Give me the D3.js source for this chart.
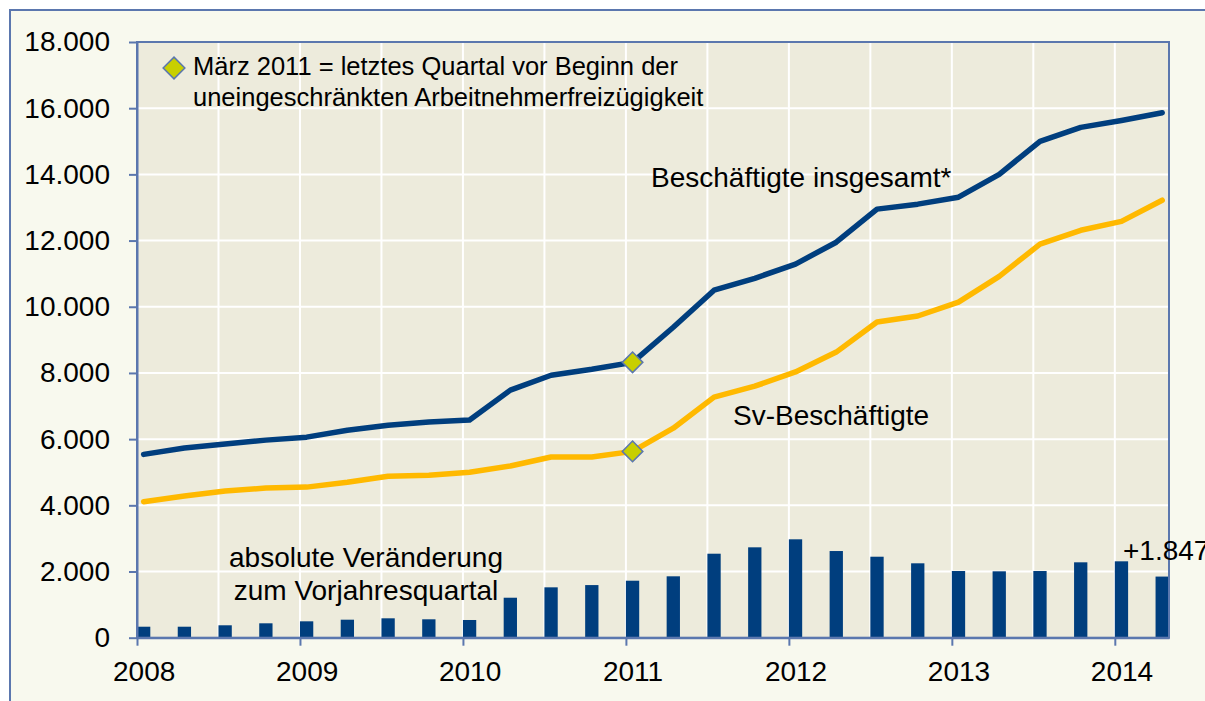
<!DOCTYPE html>
<html>
<head>
<meta charset="utf-8">
<script src="https://cdn.jsdelivr.net/npm/d3@7"></script>
<style>
body { margin: 0; background: #ffffff; }
svg text { font-family: "Liberation Sans", Arial, sans-serif; fill: #000000; }
</style>
</head>
<body>
<div class="vis-holder"></div>
<script>
// quarters shown on the chart (end month of each quarter)
var quarters = ["03/2008", "06/2008", "09/2008", "12/2008",
                "03/2009", "06/2009", "09/2009", "12/2009",
                "03/2010", "06/2010", "09/2010", "12/2010",
                "03/2011", "06/2011", "09/2011", "12/2011",
                "03/2012", "06/2012", "09/2012", "12/2012",
                "03/2013", "06/2013", "09/2013", "12/2013",
                "03/2014", "06/2014"];

// Beschäftigte insgesamt*
var total = [5540, 5730, 5850, 5970, 6060, 6270, 6420, 6520, 6580, 7480,
             7930, 8110, 8320, 9380, 10500, 10860, 11290, 11950, 12950, 13100,
             13310, 14000, 15000, 15420, 15630, 15860];

// Sv-Beschäftigte
var sv = [4110, 4280, 4430, 4520, 4550, 4700, 4880, 4910, 5000, 5190,
          5460, 5460, 5630, 6330, 7270, 7600, 8030, 8630, 9540, 9720,
          10140, 10920, 11890, 12310, 12580, 13220];

// absolute Veränderung zum Vorjahresquartal
var change = [332, 332, 375, 435, 495, 544, 586, 556, 535, 1208,
              1522, 1590, 1722, 1855, 2538, 2731, 2973, 2619, 2447, 2248,
              2015, 2006, 2015, 2278, 2308, 1847];

var years = [2008, 2009, 2010, 2011, 2012, 2013, 2014];
var yTicks = [0, 2000, 4000, 6000, 8000, 10000, 12000, 14000, 16000, 18000];
var markQuarter = "03/2011";

// svg size
var width = 1205;
var height = 701;
var margin = {
	top: 42,
	bottom: 63.3,
	left: 137,
	right: 36
};

var barWidth = 13.3;

var de = d3.formatLocale({decimal: ",", thousands: ".", grouping: [3], currency: ["", " €"]});
var fmt = de.format(",");

var svg = d3.select(".vis-holder")
			.append("svg")
			.attr("width", width)
			.attr("height", height);

// outer frame
svg.append("rect")
   .attr("x", 10)
   .attr("y", 10)
   .attr("width", width + 20)
   .attr("height", height + 20)
   .attr("fill", "#f8f9ee")
   .attr("stroke", "#5b77ae")
   .attr("stroke-width", 2);

// x-scale in quarters counted from the first quarter of 2008
var xScale = d3.scaleLinear()
			   .domain([0, 25.33])
			   .range([margin.left, width - margin.right]);

var yScale = d3.scaleLinear()
			   .domain([0, 18000])
			   .range([height - margin.bottom, margin.top]);

var plotW = xScale.range()[1] - xScale.range()[0];
var plotH = yScale.range()[0] - yScale.range()[1];

// plot background
svg.append("rect")
   .attr("x", margin.left)
   .attr("y", margin.top)
   .attr("width", plotW)
   .attr("height", plotH)
   .attr("fill", "#edebdc");

// white grid: horizontal at each y tick, vertical every half year
svg.append("g")
   .selectAll("line")
   .data(yTicks.slice(1))
   .enter()
   .append("line")
   .attr("x1", margin.left)
   .attr("x2", margin.left + plotW)
   .attr("y1", function(d) { return yScale(d); })
   .attr("y2", function(d) { return yScale(d); })
   .attr("stroke", "#ffffff")
   .attr("stroke-width", 2);

var halfYears = d3.range(2, 25, 2);
svg.append("g")
   .selectAll("line")
   .data(halfYears)
   .enter()
   .append("line")
   .attr("x1", function(d) { return xScale(d); })
   .attr("x2", function(d) { return xScale(d); })
   .attr("y1", margin.top)
   .attr("y2", margin.top + plotH)
   .attr("stroke", "#ffffff")
   .attr("stroke-width", 2);

// bars
svg.append("g")
   .selectAll("rect")
   .data(change)
   .enter()
   .append("rect")
   .attr("x", function(d, i) { return xScale(i); })
   .attr("y", function(d) { return yScale(d); })
   .attr("width", barWidth)
   .attr("height", function(d) { return yScale(0) - yScale(d); })
   .attr("fill", "#003e7e");

// lines
var line = d3.line()
			 .x(function(d, i) { return xScale(i) + barWidth / 2; })
			 .y(function(d) { return yScale(d); });

svg.append("path")
   .attr("d", line(sv))
   .attr("fill", "none")
   .attr("stroke", "#ffb900")
   .attr("stroke-width", 5.5)
   .attr("stroke-linejoin", "round")
   .attr("stroke-linecap", "round");

svg.append("path")
   .attr("d", line(total))
   .attr("fill", "none")
   .attr("stroke", "#003e7e")
   .attr("stroke-width", 5.5)
   .attr("stroke-linejoin", "round")
   .attr("stroke-linecap", "round");

// diamond markers at März 2011
var diamond = d3.symbol().type(d3.symbolDiamond2).size(270);
var mi = quarters.indexOf(markQuarter);

svg.append("g")
   .selectAll("path")
   .data([total[mi], sv[mi]])
   .enter()
   .append("path")
   .attr("d", diamond)
   .attr("transform", function(d) {
	   return "translate(" + (xScale(mi) + barWidth / 2) + "," + yScale(d) + ")";
   })
   .attr("fill", "#c8cf00")
   .attr("stroke", "#5b77ae")
   .attr("stroke-width", 1.5);

// plot border
svg.append("rect")
   .attr("x", margin.left)
   .attr("y", margin.top)
   .attr("width", plotW)
   .attr("height", plotH)
   .attr("fill", "none")
   .attr("stroke", "#5b77ae")
   .attr("stroke-width", 2);

// y-axis
var yAxis = svg.append("g")
			   .attr("transform", "translate(" + margin.left + ",0)")
			   .call(d3.axisLeft(yScale).tickValues(yTicks).tickFormat(fmt)
					   .tickSize(8).tickSizeOuter(0).tickPadding(19));

// x-axis with year ticks, labels centred over the first bar of the year
var xAxis = svg.append("g")
			   .attr("transform", "translate(0," + yScale(0) + ")")
			   .call(d3.axisBottom(xScale)
					   .tickValues(years.map(function(y) { return (y - 2008) * 4; }))
					   .tickFormat(function(d) { return 2008 + d / 4; })
					   .tickSize(8).tickSizeOuter(0).tickPadding(15));

xAxis.selectAll("text").attr("x", barWidth / 2);

svg.selectAll(".domain, .tick line")
   .attr("stroke", "#5b77ae")
   .attr("stroke-width", 2);

svg.selectAll(".tick text")
   .style("font-size", "28px")
   .attr("fill", "#000000");

// legend for the diamond
svg.append("path")
   .attr("d", d3.symbol().type(d3.symbolDiamond2).size(300))
   .attr("transform", "translate(174,68)")
   .attr("fill", "#c8cf00")
   .attr("stroke", "#5b77ae")
   .attr("stroke-width", 1.5);

var legendLines = ["März 2011 = letztes Quartal vor Beginn der",
				   "uneingeschränkten Arbeitnehmerfreizügigkeit"];
svg.append("text")
   .style("font-size", "25.5px")
   .selectAll("tspan")
   .data(legendLines)
   .enter()
   .append("tspan")
   .attr("x", 193)
   .attr("y", function(d, i) { return 75 + i * 31; })
   .text(function(d) { return d; });

// series labels
svg.append("text")
   .attr("x", 651)
   .attr("y", 187)
   .style("font-size", "28px")
   .text("Beschäftigte insgesamt*");

svg.append("text")
   .attr("x", 733)
   .attr("y", 425)
   .style("font-size", "28px")
   .text("Sv-Beschäftigte");

var barLabel = ["absolute Veränderung", "zum Vorjahresquartal"];
svg.append("text")
   .attr("text-anchor", "middle")
   .style("font-size", "28px")
   .selectAll("tspan")
   .data(barLabel)
   .enter()
   .append("tspan")
   .attr("x", 366)
   .attr("y", function(d, i) { return 567 + i * 33; })
   .text(function(d) { return d; });

// value of the last bar
svg.append("text")
   .attr("x", 1123)
   .attr("y", 560)
   .style("font-size", "28px")
   .text("+" + fmt(change[change.length - 1]));
</script>
</body>
</html>
